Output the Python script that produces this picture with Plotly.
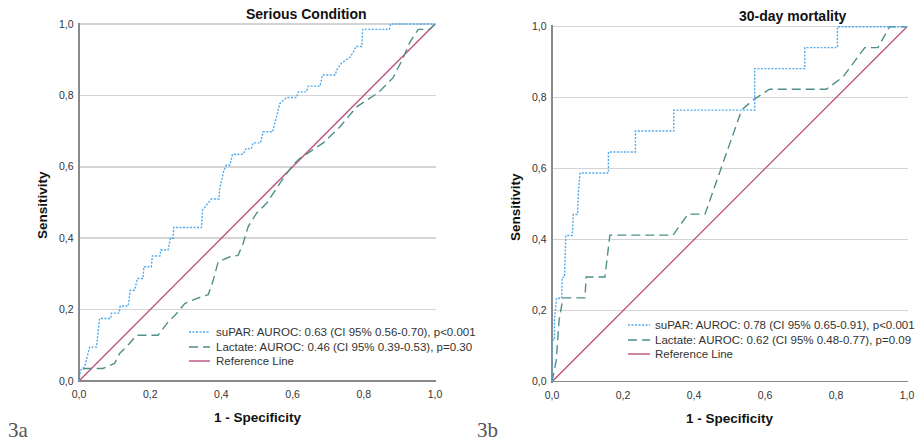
import plotly.graph_objects as go

# ---------------- data ----------------
# Panel 3a: Serious Condition
a_supar_x = [0, 0.004, 0.016, 0.022, 0.03, 0.049, 0.058, 0.089, 0.091, 0.112, 0.116, 0.138, 0.144, 0.156,
             0.164, 0.18, 0.182, 0.203, 0.206, 0.227, 0.23, 0.25, 0.257, 0.264, 0.266, 0.344, 0.347, 0.358,
             0.372, 0.393, 0.395, 0.407, 0.414, 0.424, 0.431, 0.461, 0.469, 0.484, 0.489, 0.51, 0.517, 0.544,
             0.555, 0.564, 0.583, 0.611, 0.616, 0.639, 0.644, 0.677, 0.684, 0.719, 0.725, 0.737, 0.761, 0.77,
             0.778, 0.794, 0.797, 0.872, 0.875, 1.0]
a_supar_y = [0, 0.03, 0.04, 0.063, 0.095, 0.095, 0.175, 0.175, 0.19, 0.19, 0.21, 0.21, 0.254, 0.254,
             0.287, 0.287, 0.32, 0.32, 0.35, 0.35, 0.367, 0.367, 0.40, 0.40, 0.43, 0.43, 0.478, 0.493,
             0.51, 0.51, 0.537, 0.59, 0.605, 0.605, 0.635, 0.635, 0.651, 0.651, 0.667, 0.667, 0.698, 0.698,
             0.745, 0.777, 0.794, 0.794, 0.81, 0.81, 0.826, 0.826, 0.857, 0.857, 0.873, 0.89, 0.907, 0.92,
             0.937, 0.937, 0.985, 0.985, 1.0, 1.0]
a_lact_x = [0, 0.002, 0.016, 0.067, 0.1, 0.114, 0.142, 0.161, 0.222, 0.246, 0.274, 0.297, 0.33, 0.363,
            0.377, 0.391, 0.424, 0.447, 0.461, 0.475, 0.498, 0.527, 0.565, 0.601, 0.62, 0.648, 0.686, 0.733,
            0.78, 0.809, 0.84, 0.882, 0.91, 0.93, 0.953, 0.986, 1.0]
a_lact_y = [0, 0.03, 0.035, 0.035, 0.049, 0.077, 0.105, 0.128, 0.128, 0.16, 0.189, 0.217, 0.231, 0.242,
            0.282, 0.334, 0.348, 0.352, 0.385, 0.432, 0.469, 0.498, 0.555, 0.605, 0.623, 0.642, 0.667, 0.712,
            0.768, 0.787, 0.807, 0.849, 0.904, 0.95, 0.985, 0.985, 1.0]

# Panel 3b: 30-day mortality
b_supar_x = [0, 0, 0.007, 0.007, 0.013, 0.027, 0.029, 0.035, 0.037, 0.039, 0.057, 0.06, 0.072, 0.074,
             0.079, 0.159, 0.159, 0.235, 0.235, 0.343, 0.343, 0.571, 0.571, 0.712, 0.712, 0.804, 0.804, 1.0]
b_supar_y = [0, 0.118, 0.118, 0.176, 0.235, 0.235, 0.294, 0.294, 0.353, 0.412, 0.412, 0.471, 0.471, 0.529,
             0.588, 0.588, 0.647, 0.647, 0.706, 0.706, 0.765, 0.765, 0.882, 0.882, 0.941, 0.941, 1.0, 1.0]
b_lact_x = [0, 0.012, 0.02, 0.031, 0.093, 0.096, 0.149, 0.163, 0.341, 0.383, 0.431, 0.534, 0.567, 0.613,
            0.773, 0.82, 0.881, 0.918, 0.951, 1.0]
b_lact_y = [0, 0.06, 0.174, 0.236, 0.236, 0.295, 0.295, 0.413, 0.413, 0.472, 0.472, 0.765, 0.794, 0.824,
            0.824, 0.859, 0.941, 0.941, 1.0, 1.0]

ref_x = [0, 1]
ref_y = [0, 1]

titles = ["Serious Condition", "30-day mortality"]
legend_a = ["suPAR: AUROC: 0.63 (CI 95% 0.56-0.70), p<0.001",
            "Lactate: AUROC: 0.46 (CI 95% 0.39-0.53), p=0.30",
            "Reference Line"]
legend_b = ["suPAR: AUROC: 0.78 (CI 95% 0.65-0.91), p<0.001",
            "Lactate: AUROC: 0.62 (CI 95% 0.48-0.77), p=0.09",
            "Reference Line"]
tick_vals = [0, 0.2, 0.4, 0.6, 0.8, 1.0]
tick_text = ["0,0", "0,2", "0,4", "0,6", "0,8", "1,0"]
panel_labels = ["3a", "3b"]

# ---------------- styling ----------------
W, H = 917, 444
C_SUPAR = "#4fabef"
C_LACT = "#4f8f8a"
C_REF = "#bb4f7d"
DASH_SUPAR = "2px,1.5px"
DASH_LACT = "9px,5px"
FONT = "Liberation Sans, Arial, sans-serif"
EPS = 0.004

# pixel geometry of the two plot areas (x0, x1, y_top(1.0), y_bot(0.0))
panels = [(79, 435, 24, 381), (552, 907, 26.7, 381.7)]


def dom(p):
    x0, x1, yt, yb = p
    sx = (x1 - x0) * EPS
    sy = (yb - yt) * EPS
    return ([(x0 - sx) / W, (x1 + sx) / W], [1 - (yb + sy) / H, 1 - (yt - sy) / H])


fig = go.Figure()
series = [
    (a_supar_x, a_supar_y, a_lact_x, a_lact_y),
    (b_supar_x, b_supar_y, b_lact_x, b_lact_y),
]
for i, (sx_, sy_, lx_, ly_) in enumerate(series):
    xa = "x" if i == 0 else "x2"
    ya = "y" if i == 0 else "y2"
    fig.add_trace(go.Scatter(x=ref_x, y=ref_y, mode="lines", xaxis=xa, yaxis=ya,
                             line=dict(color=C_REF, width=1.3), showlegend=False))
    fig.add_trace(go.Scatter(x=lx_, y=ly_, mode="lines", xaxis=xa, yaxis=ya,
                             line=dict(color=C_LACT, width=1.4, dash=DASH_LACT), showlegend=False))
    fig.add_trace(go.Scatter(x=sx_, y=sy_, mode="lines", xaxis=xa, yaxis=ya,
                             line=dict(color=C_SUPAR, width=1.4, dash=DASH_SUPAR), showlegend=False))

axis_common = dict(range=[-EPS, 1 + EPS], tickmode="array", tickvals=tick_vals, ticktext=tick_text,
                   showline=False, ticks="", tickfont=dict(family=FONT, size=10.5, color="#333"),
                   zeroline=True, zerolinecolor="#8a8a8a", zerolinewidth=1.5, fixedrange=True,
                   automargin=False)

layout = dict(width=W, height=H, margin=dict(l=0, r=0, t=0, b=0, autoexpand=False),
              paper_bgcolor="white", plot_bgcolor="white", showlegend=False)
for i, p in enumerate(panels):
    xd, yd = dom(p)
    sfx = "" if i == 0 else "2"
    layout["xaxis" + sfx] = dict(axis_common, domain=xd, anchor="y" + sfx, showgrid=False,
                                 ticklabelstandoff=4)
    layout["yaxis" + sfx] = dict(axis_common, domain=yd, anchor="x" + sfx, showgrid=True,
                                 gridcolor="#d4d4d4", gridwidth=1.5, ticklabelstandoff=3)
fig.update_layout(**layout)

annotations = []
shapes = []
title_pos = [(306, 14), (793, 16)]
xtitle_pos = [(258, 417), (730, 418)]
ytitle_pos = [(42, 205), (515, 207)]
label_pos = [(6, 430), (475, 430)]
leg_geo = [  # sample x0, x1, text x, row ys (pixels)
    (189, 210, 214, [332, 347, 361]),
    (628, 650, 653, [325, 340, 354]),
]
legends = [legend_a, legend_b]
for i in range(2):
    tx, ty = title_pos[i]
    annotations.append(dict(x=tx / W, y=1 - ty / H, xref="paper", yref="paper", text="<b>%s</b>" % titles[i],
                            showarrow=False, xanchor="center", yanchor="middle",
                            font=dict(family=FONT, size=14, color="#111")))
    tx, ty = xtitle_pos[i]
    annotations.append(dict(x=tx / W, y=1 - ty / H, xref="paper", yref="paper", text="<b>1 - Specificity</b>",
                            showarrow=False, xanchor="center", yanchor="middle",
                            font=dict(family=FONT, size=13.5, color="#111")))
    tx, ty = ytitle_pos[i]
    annotations.append(dict(x=tx / W, y=1 - ty / H, xref="paper", yref="paper", text="<b>Sensitivity</b>",
                            showarrow=False, xanchor="center", yanchor="middle", textangle=-90,
                            font=dict(family=FONT, size=13.5, color="#111")))
    tx, ty = label_pos[i]
    annotations.append(dict(x=tx / W, y=1 - ty / H, xref="paper", yref="paper", text=panel_labels[i],
                            showarrow=False, xanchor="left", yanchor="middle",
                            font=dict(family="Liberation Serif, serif", size=21, color="#555")))
    x0, x1, xt, rows = leg_geo[i]
    styles = [(C_SUPAR, DASH_SUPAR), (C_LACT, DASH_LACT), (C_REF, "solid")]
    for (col, dsh), ry, txt in zip(styles, rows, legends[i]):
        shapes.append(dict(type="line", xref="paper", yref="paper", x0=x0 / W, x1=x1 / W,
                           y0=1 - ry / H, y1=1 - ry / H, line=dict(color=col, width=1.4, dash=dsh)))
        annotations.append(dict(x=xt / W, y=1 - ry / H, xref="paper", yref="paper", text=txt,
                                showarrow=False, xanchor="left", yanchor="middle",
                                font=dict(family=FONT, size=11.5, color="#333")))
fig.update_layout(annotations=annotations, shapes=shapes)

fig.write_html("out.html", config={"displayModeBar": False, "staticPlot": True},
               post_script="document.body.style.margin='0';document.body.style.overflow='hidden';")
